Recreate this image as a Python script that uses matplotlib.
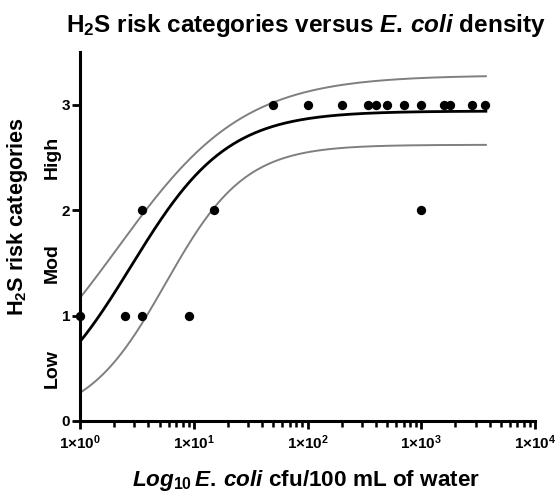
import numpy as np
import matplotlib
matplotlib.use("Agg")
import matplotlib.pyplot as plt
from matplotlib.ticker import FixedLocator, FuncFormatter
from matplotlib.transforms import blended_transform_factory

plt.rcParams['font.family'] = ['Liberation Sans', 'DejaVu Sans']
plt.rcParams['mathtext.fontset'] = 'custom'
plt.rcParams['mathtext.rm'] = 'Liberation Sans:bold'
plt.rcParams['mathtext.bf'] = 'Liberation Sans:bold'
plt.rcParams['mathtext.it'] = 'Liberation Sans:italic:bold'

# Data: E. coli density (cfu/100 mL) and H2S risk category
x_cfu = [1, 2.5, 3.5, 9,
         3.5, 15, 1000,
         50, 100, 200, 340, 400, 500, 700, 1000, 1600, 1800, 2800, 3600]
y_cat = [1, 1, 1, 1,
         2, 2, 2,
         3, 3, 3, 3, 3, 3, 3, 3, 3, 3, 3, 3]

# Sigmoidal fit (log scale) parameters: top, logEC50, hill slope
fit_params = (2.94, 0.45, 1.03)
upper_params = (3.28, 0.33, 0.78)
lower_params = (2.62, 0.755, 1.25)
curve_range = (1, 3700)

y_ticks = [0, 1, 2, 3]
x_decades = [0, 1, 2, 3, 4]
cat_labels = ['Low', 'Mod', 'High']

title_str = r"H$_2$S risk categories versus $\mathit{E.\,coli}$ density"
xlabel_str = r"$\mathit{Log_{10}\,E.\,coli}$ cfu/100 mL of water"
ylabel_str = r"H$_2$S risk categories"


def sigmoid(lx, p):
    top, ec, h = p
    return top / (1 + 10 ** ((ec - lx) * h))


W, H = 556, 492
fig = plt.figure(figsize=(W / 100, H / 100), dpi=100)
ax = fig.add_axes([80 / W, 1 - 421 / H, 455 / W, 369 / H])

lx = np.linspace(np.log10(curve_range[0]), np.log10(curve_range[1]), 300)
xx = 10 ** lx
ax.plot(xx, sigmoid(lx, upper_params), color='#7f7f7f', lw=1.4, zorder=2)
ax.plot(xx, sigmoid(lx, lower_params), color='#7f7f7f', lw=1.4, zorder=2)
ax.plot(xx, sigmoid(lx, fit_params), color='black', lw=2.0, zorder=3)
ax.scatter(x_cfu, y_cat, s=45, color='black', zorder=5, clip_on=False, linewidths=0)

ax.set_xscale('log')
ax.set_xlim(10 ** x_decades[0], 10 ** x_decades[-1])
ax.set_ylim(0, 3.5)

ax.spines['top'].set_visible(False)
ax.spines['right'].set_visible(False)
ax.spines['left'].set_linewidth(2.2)
ax.spines['bottom'].set_linewidth(2.2)

ax.xaxis.set_major_locator(FixedLocator([10 ** d for d in x_decades]))
ax.xaxis.set_major_formatter(FuncFormatter(lambda v, p: r"1×10$^{%d}$" % round(np.log10(v))))
minor = [m * 10 ** d for d in x_decades[:-1] for m in range(2, 10)]
ax.xaxis.set_minor_locator(FixedLocator(minor))
ax.set_yticks(y_ticks)
ax.set_yticklabels([str(t) for t in y_ticks])

ax.tick_params(axis='both', which='major', direction='out', length=6, width=2,
               labelsize=11, pad=3)
ax.tick_params(axis='y', which='major', pad=1)
ax.tick_params(axis='x', which='minor', direction='out', length=4, width=1.8)
for lab in ax.get_xticklabels() + ax.get_yticklabels():
    lab.set_fontweight('bold')

# Category labels between ticks
cat_tr = blended_transform_factory(fig.transFigure, ax.transData)
for i, lab in enumerate(cat_labels):
    ax.text(52 / W, (y_ticks[i] + y_ticks[i + 1]) / 2, lab, transform=cat_tr,
            rotation=90, ha='center', va='center', fontsize=14, fontweight='bold')

renderer = fig.canvas.get_renderer()


def fitted_text(s, x, y, target_len, base_size, **kw):
    t = fig.text(x, y, s, fontsize=base_size, fontweight='bold', **kw)
    bb = t.get_window_extent(renderer)
    length = bb.height if kw.get('rotation', 0) == 90 else bb.width
    t.set_fontsize(base_size * target_len / length)
    return t


fitted_text(title_str, 306 / W, 1 - 32 / H, 482, 14, ha='center', va='baseline')
fitted_text(xlabel_str, 306 / W, 1 - 486 / H, 347, 13, ha='center', va='baseline')
fitted_text(ylabel_str, 18 / W, 1 - 216 / H, 200, 12.5, ha='center', va='center', rotation=90)

fig.savefig('out.png', dpi=100)
